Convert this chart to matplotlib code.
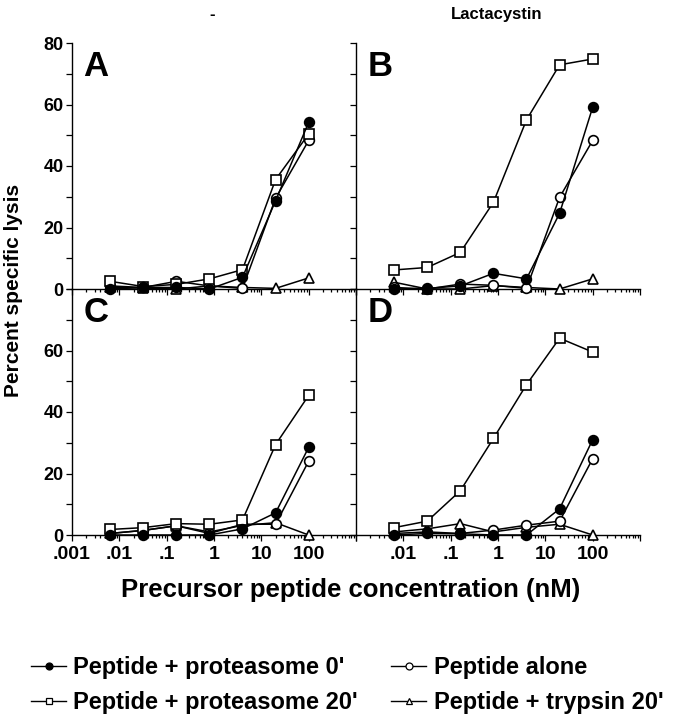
import matplotlib

matplotlib.use("Agg")
import matplotlib.pyplot as plt
from matplotlib.lines import Line2D
from matplotlib.ticker import FixedLocator, LogLocator, NullFormatter

plt.rcParams["font.family"] = ["Liberation Sans", "DejaVu Sans"]
plt.rcParams["font.weight"] = "bold"

# precursor peptide concentration (nM), fivefold dilutions
conc = [0.0064, 0.032, 0.16, 0.8, 4, 20, 100]

# percent specific lysis per panel
a_prot0 = [0, 0.5, 0.5, 0, 3.8, 28.7, 54.2]
a_prot20 = [2.5, 0.8, 1.5, 3.3, 6.3, 35.6, 50.4]
a_alone = [1.0, 0.5, 2.5, 1.0, 0.2, 29.5, 48.3]
a_tryp = [0.5, 0.3, 0, 1.0, 0.5, 0.2, 3.6]

b_prot0 = [0, 0.2, 1.0, 5.1, 3.3, 24.6, 59.1]
b_prot20 = [6.2, 7.0, 11.9, 28.2, 55.0, 72.9, 74.8]
b_alone = [0.5, 0, 1.6, 1.2, 0.2, 29.8, 48.3]
b_tryp = [2.2, 0, 0, 1.1, 0.5, 0, 3.3]

c_prot0 = [0, 0, 0, 0, 2.0, 7.2, 28.5]
c_prot20 = [1.8, 2.4, 3.7, 3.5, 4.9, 29.4, 45.4]
c_alone = [0.5, 1.5, 3.0, 0.5, 3.5, 3.5, 24.0]
c_tryp = [0.5, 1.5, 3.0, 1.0, 3.1, 4.0, 0]

d_prot0 = [0, 0.5, 0.4, 0, 0, 8.5, 31.0]
d_prot20 = [2.4, 4.5, 14.4, 31.4, 48.9, 64.0, 59.5]
d_alone = [0.5, 1.0, 0.5, 1.6, 3.2, 4.5, 24.8]
d_tryp = [1.0, 2.0, 3.7, 1.0, 2.5, 3.5, 0]

labels = ["Peptide + proteasome 0'", "Peptide + proteasome 20'",
          "Peptide alone", "Peptide + trypsin 20'"]
panel_letters = ["A", "B", "C", "D"]
column_titles = ["-", "Lactacystin"]
x_ticks = [0.001, 0.01, 0.1, 1, 10, 100]
x_ticklabels = [".001", ".01", ".1", "1", "10", "100"]
y_ticks = [0, 20, 40, 60, 80]

panels = [
    (a_prot0, a_prot20, a_alone, a_tryp),
    (b_prot0, b_prot20, b_alone, b_tryp),
    (c_prot0, c_prot20, c_alone, c_tryp),
    (d_prot0, d_prot20, d_alone, d_tryp),
]

# marker style per series: (marker, facecolor)
styles = [("o", "black"), ("s", "white"), ("o", "white"), ("^", "white")]

W, H = 675, 719
fig = plt.figure(figsize=(W / 100, H / 100), dpi=100)

boxes = [(72, 43), (356, 43), (72, 289), (356, 289)]
pw, ph = 284, 246

for i, (series, (x0, y0)) in enumerate(zip(panels, boxes)):
    ax = fig.add_axes([x0 / W, 1 - (y0 + ph) / H, pw / W, ph / H])
    ax.patch.set_alpha(0)
    # filled circles on top, then the open markers
    for k in [3, 2, 1, 0]:
        mk, fc = styles[k]
        ax.plot(conc, series[k], color="black", lw=1.1, marker=mk,
                markersize=7 if mk != "^" else 7.5, markerfacecolor=fc,
                markeredgecolor="black", markeredgewidth=1.2, zorder=3 + (3 - k),
                clip_on=False)
    ax.set_xscale("log")
    ax.set_xlim(0.001, 1000)
    ax.set_ylim(0, 80)
    for s in ["top", "right"]:
        ax.spines[s].set_visible(False)
    ax.spines["left"].set_linewidth(1.0)
    ax.spines["bottom"].set_linewidth(1.0)

    ax.yaxis.set_major_locator(FixedLocator(y_ticks))
    ax.yaxis.set_minor_locator(FixedLocator([10, 30, 50, 70]))
    ax.xaxis.set_major_locator(FixedLocator(x_ticks + [1000]))
    ax.xaxis.set_minor_locator(LogLocator(base=10, subs=range(2, 10), numticks=20))
    ax.xaxis.set_minor_formatter(NullFormatter())
    ax.tick_params(axis="both", which="both", direction="out", width=0.9)
    ax.tick_params(axis="y", which="both", length=4, pad=2)
    ax.tick_params(axis="x", which="major", length=4, pad=4)
    ax.tick_params(axis="x", which="minor", length=2.5)

    if i in (0, 2):
        ylab = [str(v) for v in y_ticks]
        if i == 2:
            ylab[-1] = ""
        ax.set_yticklabels(ylab, fontsize=13, fontweight="bold")
    else:
        ax.set_yticklabels([])

    if i in (2, 3):
        xl = x_ticklabels + [""]
        if i == 3:
            xl[0] = ""
        ax.set_xticklabels(xl, fontsize=14, fontweight="bold")
    else:
        ax.set_xticklabels([])

    ax.text(0.04, 0.97, panel_letters[i], transform=ax.transAxes,
            fontsize=25, fontweight="bold", va="top", ha="left")

fig.text(212 / W, 1 - 14 / H, column_titles[0], fontsize=12, fontweight="bold",
         ha="center", va="center")
fig.text(497 / W, 1 - 14 / H, column_titles[1], fontsize=12, fontweight="bold",
         ha="center", va="center")
fig.text(14 / W, 1 - 290 / H, "Percent specific lysis", rotation=90,
         fontsize=15, fontweight="bold", ha="center", va="center")
fig.text(351 / W, 1 - 590 / H, "Precursor peptide concentration (nM)",
         fontsize=18.5, fontweight="bold", ha="center", va="center")

handles = []
for mk, fc in styles:
    handles.append(Line2D([0], [0], color="black", lw=1.0, marker=mk,
                          markersize=5, markerfacecolor=fc,
                          markeredgecolor="black", markeredgewidth=0.9))
fig.legend(handles, labels, ncol=2, loc="center", bbox_to_anchor=(347 / W, 1 - 685 / H),
           frameon=False, prop={"size": 17, "weight": "bold"},
           handlelength=1.5, handletextpad=0.3, columnspacing=1.4, labelspacing=0.5)

fig.savefig("out.png", dpi=100)
